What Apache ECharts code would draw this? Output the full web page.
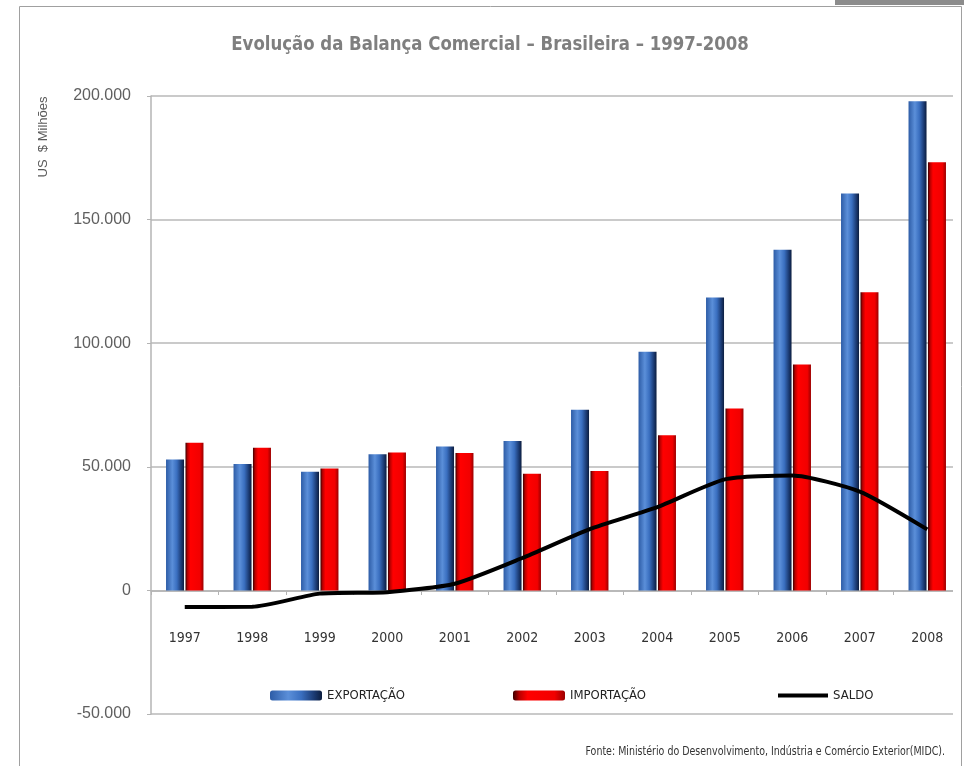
<!DOCTYPE html>
<html>
<head>
<meta charset="utf-8">
<script src="https://cdn.jsdelivr.net/npm/echarts@6/dist/echarts.min.js"></script>
<style>
  html, body { margin: 0; padding: 0; background: #fff; }
  #chart { width: 964px; height: 766px; }
</style>
</head>
<body>
<div id="chart"></div>
<script>
// dados (US$ milhões)
var anos = ['1997', '1998', '1999', '2000', '2001', '2002', '2003', '2004', '2005', '2006', '2007', '2008']
var exportacao = [53000, 51100, 48000, 55100, 58200, 60400, 73100, 96500, 118500, 137800, 160600, 197900]
var importacao = [59700, 57700, 49300, 55800, 55600, 47200, 48300, 62800, 73600, 91400, 120600, 173200]
var saldo = [-6700, -6600, -1300, -700, 2700, 13100, 24800, 33700, 44900, 46500, 40000, 24700]
var yTicks = [-50000, 0, 50000, 100000, 150000, 200000]

var narrow = "'Liberation Sans Narrow', 'DejaVu Sans Condensed', 'Liberation Sans', sans-serif"

function fmt(v) {
  if (v === 0) return '0'
  return (v / 1000) + '.000'
}

var azul = new echarts.graphic.LinearGradient(0, 0, 1, 0, [
  { offset: 0, color: '#2d5ca6' },
  { offset: 0.35, color: '#5b8fd9' },
  { offset: 0.6, color: '#3a6fc0' },
  { offset: 0.85, color: '#1b3a72' },
  { offset: 1, color: '#0c1d3e' }
])
var vermelho = new echarts.graphic.LinearGradient(0, 0, 1, 0, [
  { offset: 0, color: '#3a0000' },
  { offset: 0.12, color: '#b80000' },
  { offset: 0.28, color: '#ff0000' },
  { offset: 0.8, color: '#f20000' },
  { offset: 1, color: '#9a0000' }
])

var legendText = { fontFamily: narrow, fontSize: 13, color: '#222' }

var chart = echarts.init(document.getElementById('chart'))
var option = {
  animation: false,
  backgroundColor: '#fff',
  grid: { left: 151, right: 3, top: 96, bottom: 52 },
  legend: [
    { data: ['EXPORTAÇÃO'], left: 265, top: 684, itemWidth: 52, itemHeight: 10, itemGap: 0, textStyle: legendText },
    { data: ['IMPORTAÇÃO'], left: 508, top: 684, itemWidth: 52, itemHeight: 10, itemGap: 0, textStyle: legendText },
    { data: [{ name: 'SALDO', icon: 'rect' }], left: 773, top: 684, itemWidth: 50, itemHeight: 4, itemGap: 0, textStyle: legendText }
  ],
  xAxis: {
    type: 'category',
    data: anos,
    offset: -123,
    axisLine: { onZero: false, lineStyle: { color: '#b4b4b4', width: 1.5 } },
    axisTick: { show: true, length: 4, lineStyle: { color: '#b4b4b4' } },
    axisLabel: { margin: 40, fontFamily: narrow, fontSize: 14, color: '#333' }
  },
  yAxis: {
    type: 'value',
    min: -50000,
    max: 200000,
    interval: 50000,
    axisLine: { show: true, lineStyle: { color: '#b4b4b4', width: 1.5 } },
    axisTick: { show: true, length: 4, lineStyle: { color: '#b4b4b4' } },
    splitLine: { lineStyle: { color: '#b9b9b9', width: 1.5 } },
    axisLabel: {
      margin: 20, fontFamily: "'Liberation Sans', Arial, sans-serif", fontSize: 16, color: '#5f5f5f',
      formatter: function(v) { return yTicks.indexOf(v) >= 0 ? fmt(v) : '' }
    }
  },
  series: [
    {
      name: 'EXPORTAÇÃO', type: 'bar', data: exportacao, barWidth: 18, barGap: '8%',
      itemStyle: { color: azul }
    },
    {
      name: 'IMPORTAÇÃO', type: 'bar', data: importacao, barWidth: 18,
      itemStyle: { color: vermelho }
    },
    {
      name: 'SALDO', type: 'line', data: saldo, smooth: 0.2, symbol: 'none', z: 5,
      lineStyle: { color: '#000', width: 4 },
      itemStyle: { color: '#000' }
    }
  ],
  graphic: [
    // esconde o fim das linhas de grade
    { type: 'rect', shape: { x: 953, y: 88, width: 8, height: 632 }, style: { fill: '#fff' }, z: 100 },
    // moldura
    { type: 'line', shape: { x1: 19.5, y1: 6.5, x2: 961.5, y2: 6.5 }, style: { stroke: '#a0a0a0', lineWidth: 1 }, z: 101 },
    { type: 'line', shape: { x1: 19.5, y1: 6.5, x2: 19.5, y2: 766 }, style: { stroke: '#a0a0a0', lineWidth: 1 }, z: 101 },
    { type: 'line', shape: { x1: 961.5, y1: 6.5, x2: 961.5, y2: 766 }, style: { stroke: '#a0a0a0', lineWidth: 1 }, z: 101 },
    { type: 'rect', shape: { x: 835, y: 0, width: 129, height: 5 }, style: { fill: '#8c8c8c' }, z: 102 },
    {
      type: 'text', x: 490, y: 45, scaleX: 0.92, z: 103,
      style: {
        text: 'Evolução da Balança Comercial – Brasileira – 1997-2008', fill: '#7f7f7f',
        align: 'center', verticalAlign: 'middle', font: 'bold 20px ' + narrow
      }
    },
    {
      type: 'text', x: 43, y: 137, rotation: Math.PI / 2, z: 103,
      style: {
        text: 'US  $ Milhões', fill: '#595959', align: 'center', verticalAlign: 'middle',
        font: "13px 'Liberation Sans', Arial, sans-serif"
      }
    },
    {
      type: 'text', x: 945, y: 752, scaleX: 0.81, z: 103,
      style: {
        text: 'Fonte: Ministério do Desenvolvimento, Indústria e Comércio Exterior(MIDC).',
        fill: '#333', align: 'right', verticalAlign: 'middle', font: '13px ' + narrow
      }
    }
  ]
}
chart.setOption(option)
</script>
</body>
</html>
